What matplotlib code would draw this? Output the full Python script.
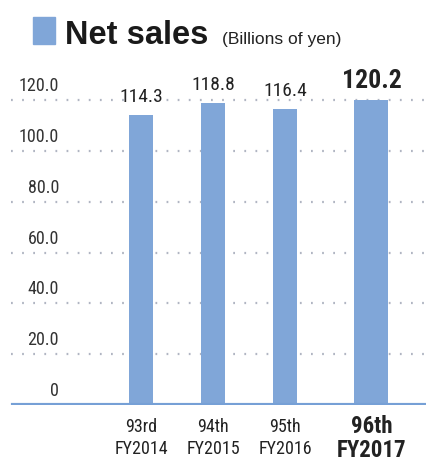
import matplotlib.pyplot as plt
import numpy as np
from matplotlib.patches import Rectangle

periods = ["93rd", "94th", "95th", "96th"]
fiscal_years = ["FY2014", "FY2015", "FY2016", "FY2017"]
net_sales = [114.3, 118.8, 116.4, 120.2]
y_ticks = [0, 20, 40, 60, 80, 100, 120]
y_tick_labels = ["0", "20.0", "40.0", "60.0", "80.0", "100.0", "120.0"]

BAR_COLOR = "#80a6d8"
NARROW = ["Liberation Sans Narrow", "DejaVu Sans Condensed",
          "Roboto Condensed", "Roboto", "DejaVu Sans"]

fig = plt.figure(figsize=(4.27, 4.61), dpi=100)
ax = fig.add_axes([0, 56 / 461, 1, 343 / 461])

# last bar is highlighted: wider and a bit further out
x_pos = np.array([0, 1, 2, 3.2])
widths = [0.32, 0.32, 0.32, 0.47]

ax.set_xlim(-141 / 72, (427 - 141) / 72)
ax.set_ylim(0, 135)
ax.axis("off")

for y in y_ticks[1:]:
    ax.axhline(y, xmin=0.025, xmax=1, color="#b0b5c2", lw=1.6,
               linestyle=(0, (0.8, 4.2)), zorder=1)
ax.axhline(0, xmin=0.03, xmax=1, color="#76a0d6", lw=3, zorder=3)

ax.bar(x_pos, net_sales, width=widths, color=BAR_COLOR, zorder=2)

for y, lab in zip(y_ticks, y_tick_labels):
    ax.annotate(lab, xy=(0, y), xycoords=("axes fraction", "data"),
                xytext=(59, 5), textcoords="offset pixels",
                ha="right", va="bottom", fontsize=13, family=NARROW,
                color="#333333")

for i, (x, v) in enumerate(zip(x_pos, net_sales)):
    last = i == len(net_sales) - 1
    ax.annotate(f"{v:.1f}", xy=(x, v), xytext=(0, 7 if last else 9),
                textcoords="offset pixels", ha="center", va="bottom",
                fontsize=18.5 if last else 14, family=NARROW,
                weight="bold" if last else "normal", color="#222222")
    ax.annotate(f"{periods[i]}\n{fiscal_years[i]}", xy=(x, 0),
                xytext=(0, -10 if last else -13), textcoords="offset pixels",
                ha="center", va="top", linespacing=1.05 if last else 1.25,
                fontsize=16.5 if last else 13, family=NARROW,
                weight="bold" if last else "normal", color="#222222")

# header with legend swatch
fig.patches.append(Rectangle((33 / 427, 1 - 44 / 461), 22 / 427, 27 / 461,
                             transform=fig.transFigure, color=BAR_COLOR))
fig.text(65 / 427, 1 - 44 / 461, "Net sales", fontsize=23.5, weight="bold",
         family=["Liberation Sans", "DejaVu Sans"], color="#1a1a1a",
         va="baseline")
fig.text(222 / 427, 1 - 44 / 461, "(Billions of yen)", fontsize=12.5,
         family=["Liberation Sans", "DejaVu Sans"], color="#222222",
         va="baseline")

fig.savefig("out.png", dpi=100)
